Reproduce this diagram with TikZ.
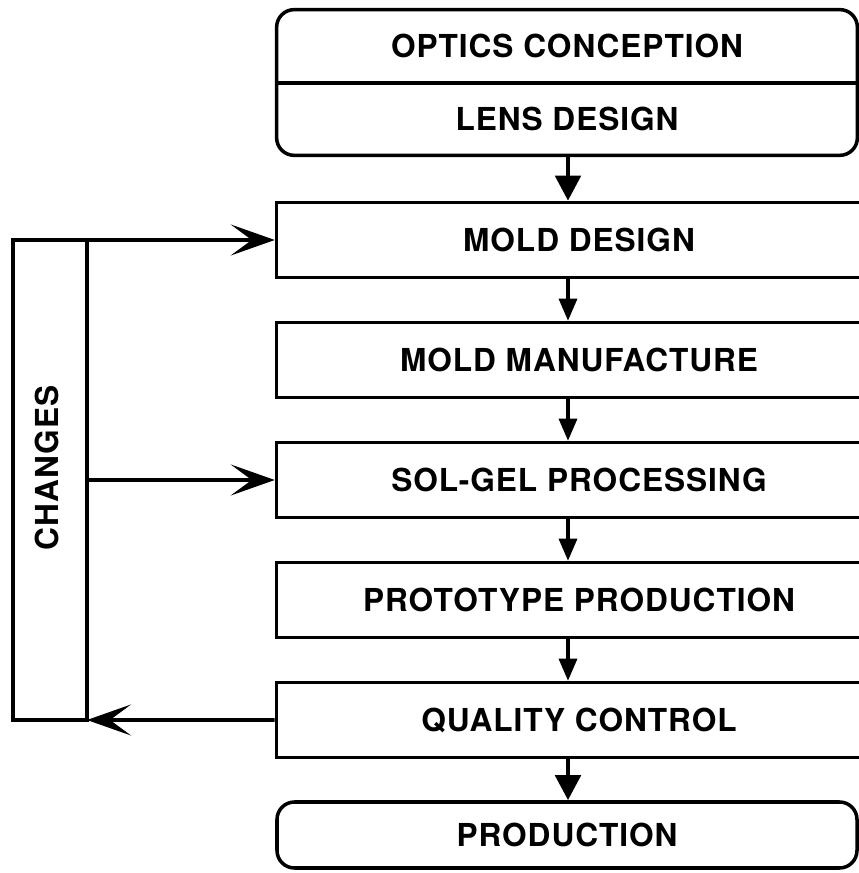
\documentclass[tikz,border=0pt]{standalone}
\usepackage{fontspec}
\setmainfont{TeX Gyre Heros}[LetterSpace=3]
\usepackage{graphicx}
\usepackage{tikz}
\usetikzlibrary{arrows.meta}

\begin{document}
\begin{tikzpicture}[
    font=\fontsize{18}{20}\selectfont\bfseries,
    blok/.style={draw,line width=2pt,minimum width=12.1cm,minimum height=1.5cm,inner sep=0pt},
    kop/.style={minimum width=11.6cm,minimum height=1.45cm,inner sep=0pt},
    pijl/.style={-{Triangle[length=0.44cm,width=0.36cm]},line width=1.8pt},
    dikpijl/.style={-{Triangle[length=0.5cm,width=0.5cm]},line width=2.8pt},
    terug/.style={-{Stealth[length=0.88cm,width=0.62cm,inset=0.42cm]},line width=2pt}]

        \useasboundingbox (0,0) rectangle (17.16,17.46); %frame

        % top box, two parts
        \node[kop] (oc) at (11.34,16.535) {OPTICS CONCEPTION};
        \node[kop] (ld) at (11.34,15.085) {LENS DESIGN};
        \draw[line width=2pt,rounded corners=0.35cm] (oc.north west) rectangle (ld.south east);
        \draw[line width=2pt] (oc.south west) -- (oc.south east); %divider
        \coordinate (as) at (11.36,0); %arrow column

        % process steps (right side runs off the page)
        \node[blok] (md) at (11.58,12.66) {MOLD DESIGN};
        \node[blok] (mm) at (11.58,10.26) {MOLD MANUFACTURE};
        \node[blok] (sg) at (11.58,7.86) {SOL-GEL PROCESSING};
        \node[blok] (pp) at (11.58,5.46) {PROTOTYPE PRODUCTION};
        \node[blok] (qc) at (11.58,3.06) {QUALITY CONTROL};
        \node[blok,rounded corners=0.35cm,minimum width=11.6cm,minimum height=1.32cm] (pr) at (11.34,0.76) {PRODUCTION};

        % feedback box
        \node[draw,line width=2pt,outer sep=0pt,minimum width=1.48cm,minimum height=9.6cm] (chg) at (1.0,7.86) {};
        \node[rotate=90] (chgtxt) at ([xshift=-0.06cm,yshift=0.24cm]chg.center) {CHANGES};

        \draw[dikpijl] (ld.south -| as) -- (md.north -| as);
        \foreach \a/\b in {md/mm,mm/sg,sg/pp,pp/qc} \draw[pijl] (\a.south -| as) -- (\b.north -| as);
        \draw[dikpijl] (qc.south -| as) -- (pr.north -| as);

        \draw[terug] (chg.north east) -- (md.west);
        \draw[terug] (chg.east) -- (sg.west);
        \draw[terug] (qc.west) -- (chg.south east);

\end{tikzpicture}
\end{document}
